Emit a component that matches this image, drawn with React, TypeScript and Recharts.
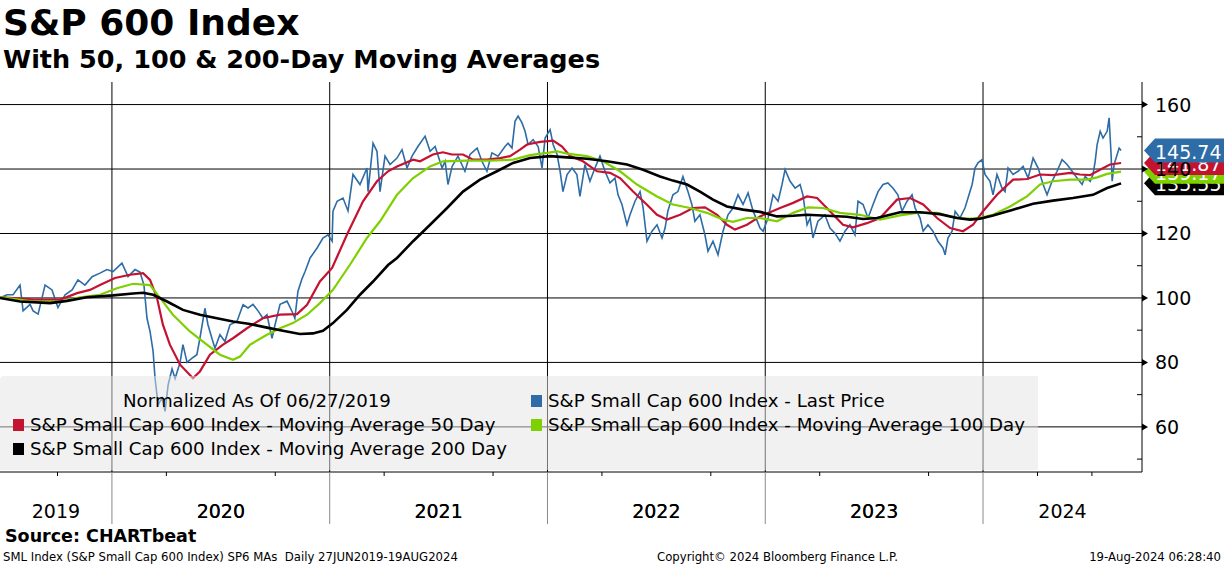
import React from 'react';
import { LineChart, Line, XAxis, YAxis, CartesianGrid, ReferenceDot } from 'recharts';

// S&P 600 normalized to 100 on 06/27/2019, with 50/100/200-day moving averages
// x values are decimal years

const FONT = "'DejaVu Sans', Verdana, sans-serif";

const price: [number, number][] = [
  [2019.486, 100], [2019.518, 101], [2019.546, 101], [2019.578, 104], [2019.592, 96],
  [2019.624, 98], [2019.638, 96], [2019.661, 95], [2019.693, 104], [2019.725, 102.5],
  [2019.752, 97], [2019.785, 101], [2019.817, 102.5], [2019.844, 105.6], [2019.876, 104],
  [2019.909, 106.6], [2019.945, 107.7], [2019.977, 108.8], [2020.005, 108.2], [2020.046, 110.8],
  [2020.074, 106.6], [2020.106, 108.8], [2020.129, 108], [2020.147, 104], [2020.161, 93.7],
  [2020.175, 89.6], [2020.189, 83.4], [2020.198, 75], [2020.212, 66.8], [2020.23, 69],
  [2020.244, 64.8], [2020.258, 73], [2020.276, 78], [2020.29, 75], [2020.313, 80],
  [2020.326, 85.5], [2020.345, 80], [2020.368, 81.3], [2020.39, 82.4], [2020.404, 87.5],
  [2020.427, 96.8], [2020.441, 91.7], [2020.459, 87.5], [2020.473, 84.4], [2020.496, 88.6],
  [2020.519, 86.5], [2020.542, 91.7], [2020.574, 92.7], [2020.602, 97.9], [2020.625, 96.9],
  [2020.648, 98], [2020.671, 96], [2020.693, 93.7], [2020.712, 94.8], [2020.735, 87.5],
  [2020.749, 91.7], [2020.772, 98], [2020.804, 99], [2020.827, 95.8], [2020.84, 93.7],
  [2020.854, 102], [2020.873, 106], [2020.887, 108.2], [2020.91, 112.4], [2020.942, 115.5],
  [2020.969, 118.6], [2020.992, 119.6], [2021.011, 117.6], [2021.015, 126.9], [2021.034, 130],
  [2021.061, 131], [2021.084, 127], [2021.107, 138.3], [2021.139, 135.2], [2021.171, 140.3],
  [2021.176, 133], [2021.199, 148], [2021.217, 145.5], [2021.231, 133], [2021.254, 144],
  [2021.277, 141.4], [2021.309, 143.4], [2021.332, 146], [2021.355, 140.3], [2021.378, 144],
  [2021.405, 147], [2021.438, 150.2], [2021.461, 145.5], [2021.484, 147], [2021.516, 140.3],
  [2021.53, 142.4], [2021.543, 135.2], [2021.562, 140.8], [2021.589, 144], [2021.621, 139.3],
  [2021.644, 144.5], [2021.677, 146.5], [2021.699, 142.4], [2021.722, 139.3], [2021.745, 145],
  [2021.773, 144], [2021.805, 147], [2021.819, 148], [2021.837, 146.5], [2021.851, 154.8],
  [2021.865, 156.4], [2021.883, 154.3], [2021.897, 151.7], [2021.911, 147.6], [2021.934, 149.1],
  [2021.957, 147], [2021.975, 140.3], [2021.989, 149.6], [2022.012, 152.2], [2022.026, 147.6],
  [2022.044, 144.5], [2022.058, 139.3], [2022.071, 133], [2022.09, 138.3], [2022.113, 140.3],
  [2022.135, 138.3], [2022.149, 131.5], [2022.172, 141.4], [2022.195, 136.2], [2022.218, 140.3],
  [2022.241, 144], [2022.264, 139.3], [2022.287, 135.7], [2022.31, 137.2], [2022.324, 132],
  [2022.342, 129], [2022.365, 122.7], [2022.379, 125.8], [2022.402, 130], [2022.425, 133],
  [2022.439, 128], [2022.457, 117.6], [2022.48, 120.7], [2022.503, 122.7], [2022.526, 118.6],
  [2022.54, 121.7], [2022.553, 127], [2022.576, 132], [2022.599, 133], [2022.622, 137.7],
  [2022.645, 133], [2022.663, 129], [2022.677, 123.8], [2022.7, 125.8], [2022.723, 119.6],
  [2022.737, 114.5], [2022.76, 117.6], [2022.783, 113.4], [2022.806, 120.7], [2022.829, 125.8],
  [2022.852, 127.9], [2022.875, 132], [2022.898, 129], [2022.921, 132.6], [2022.944, 127],
  [2022.976, 121.7], [2022.99, 120.7], [2023.013, 124.8], [2023.036, 132], [2023.059, 130],
  [2023.077, 135.2], [2023.091, 139.8], [2023.114, 136.2], [2023.137, 134.1], [2023.16, 135.2],
  [2023.173, 132], [2023.192, 122.7], [2023.206, 124.8], [2023.219, 118.6], [2023.242, 123.8],
  [2023.274, 125.8], [2023.297, 121.7], [2023.32, 120.1], [2023.343, 117.6], [2023.366, 120.7],
  [2023.389, 122.7], [2023.412, 119.6], [2023.426, 130], [2023.449, 129], [2023.472, 124.8],
  [2023.495, 129], [2023.518, 133], [2023.541, 135.2], [2023.563, 135.7], [2023.586, 134.1],
  [2023.609, 132], [2023.628, 126.9], [2023.651, 130], [2023.674, 132], [2023.688, 127.9],
  [2023.711, 124.8], [2023.725, 120.7], [2023.747, 122.7], [2023.77, 120.7], [2023.793, 117.6],
  [2023.816, 115.5], [2023.826, 113.4], [2023.839, 118.6], [2023.858, 120.7], [2023.872, 126.9],
  [2023.894, 124.8], [2023.917, 127.9], [2023.931, 131], [2023.95, 135.2], [2023.963, 140.3],
  [2023.977, 141.9], [2023.995, 142.9], [2024.009, 138.3], [2024.032, 136.2], [2024.046, 132],
  [2024.064, 138.3], [2024.087, 134.1], [2024.101, 133], [2024.115, 140.3], [2024.138, 138.3],
  [2024.161, 139.3], [2024.184, 140.8], [2024.207, 137.2], [2024.23, 143.4], [2024.253, 140.3],
  [2024.276, 135.2], [2024.294, 132], [2024.317, 136.2], [2024.34, 139.3], [2024.363, 142.9],
  [2024.386, 141.4], [2024.409, 139.3], [2024.432, 137.2], [2024.455, 135.2], [2024.469, 137.7],
  [2024.492, 136.2], [2024.505, 138.3], [2024.515, 142.4], [2024.524, 147.6], [2024.538, 151.7],
  [2024.551, 149.6], [2024.57, 151.7], [2024.579, 155.9], [2024.588, 144.5], [2024.593, 136.2],
  [2024.602, 141.4], [2024.616, 144.5], [2024.625, 146.5], [2024.634, 145.74],
];

const ma50: [number, number][] = [
  [2019.486, 100.3], [2019.638, 99.5], [2019.762, 99.5], [2019.84, 101.5], [2019.899, 102.5],
  [2019.945, 104], [2020.014, 106.2], [2020.083, 107.2], [2020.143, 107.7], [2020.175, 105.6],
  [2020.207, 100], [2020.234, 91.7], [2020.266, 85.5], [2020.313, 79.3], [2020.372, 75.1],
  [2020.404, 77.2], [2020.45, 82.4], [2020.51, 85.5], [2020.556, 87.5], [2020.62, 90.6],
  [2020.693, 93.7], [2020.772, 94.8], [2020.85, 95], [2020.896, 97.9], [2020.955, 105.1],
  [2021.011, 109.3], [2021.079, 119.6], [2021.153, 130], [2021.217, 136.2], [2021.268, 139.3],
  [2021.309, 140.8], [2021.383, 142.9], [2021.415, 142.4], [2021.474, 144.5], [2021.52, 145.2],
  [2021.561, 144.5], [2021.612, 144.5], [2021.658, 142.9], [2021.722, 142.9], [2021.782, 143.4],
  [2021.828, 144], [2021.874, 146], [2021.906, 147.6], [2021.966, 148.4], [2022.026, 148.8],
  [2022.067, 147], [2022.104, 144], [2022.163, 142.4], [2022.228, 139.3], [2022.287, 138.8],
  [2022.333, 137.2], [2022.393, 133], [2022.457, 128.9], [2022.503, 125.8], [2022.549, 124.3],
  [2022.609, 125.8], [2022.668, 127.9], [2022.723, 128.1], [2022.779, 125.8], [2022.824, 122.7],
  [2022.861, 121.2], [2022.916, 122.7], [2022.976, 125.3], [2023.068, 127.9], [2023.128, 129.5],
  [2023.192, 131.5], [2023.238, 131], [2023.297, 126.9], [2023.357, 122.7], [2023.403, 121.9],
  [2023.467, 123.2], [2023.527, 124.8], [2023.605, 130.5], [2023.665, 131], [2023.725, 129],
  [2023.789, 124.8], [2023.849, 121.7], [2023.908, 120.7], [2023.954, 122.7], [2024.0, 126.9],
  [2024.064, 132], [2024.138, 136.7], [2024.202, 136.9], [2024.262, 138.3], [2024.321, 138.1],
  [2024.4, 138.8], [2024.445, 138.3], [2024.491, 138.1], [2024.537, 139.8], [2024.583, 141.4],
  [2024.634, 141.87],
];

const ma100: [number, number][] = [
  [2019.486, 100.3], [2019.638, 98.9], [2019.762, 98.9], [2019.853, 100.2], [2019.945, 101],
  [2020.023, 103], [2020.097, 104.4], [2020.175, 104], [2020.221, 100], [2020.28, 94.8],
  [2020.358, 89.6], [2020.436, 85.5], [2020.496, 82.4], [2020.556, 80.8], [2020.588, 81.8],
  [2020.634, 85.5], [2020.712, 88.6], [2020.772, 90.6], [2020.831, 92.2], [2020.896, 94.8],
  [2020.955, 98.4], [2021.015, 102.5], [2021.093, 110.3], [2021.171, 118.6], [2021.231, 123.8],
  [2021.309, 132], [2021.383, 137.2], [2021.461, 140.8], [2021.52, 142.4], [2021.63, 142.6],
  [2021.736, 142.6], [2021.842, 142.9], [2021.92, 144.3], [2021.998, 145], [2022.044, 145.5],
  [2022.09, 144.8], [2022.181, 144], [2022.255, 142.4], [2022.333, 139.3], [2022.411, 135.2],
  [2022.503, 131.5], [2022.576, 129], [2022.654, 127.9], [2022.732, 126.4], [2022.806, 124.3],
  [2022.852, 123.6], [2022.916, 124.8], [2022.976, 124.8], [2023.054, 123.8], [2023.128, 126.4],
  [2023.197, 128.1], [2023.265, 127.9], [2023.343, 126.4], [2023.435, 125.8], [2023.527, 124.3],
  [2023.619, 125.6], [2023.697, 126.4], [2023.789, 126.4], [2023.849, 125.3], [2023.908, 124.6],
  [2023.972, 124.6], [2024.046, 125.8], [2024.124, 128.4], [2024.202, 131.5], [2024.262, 135.2],
  [2024.321, 136.2], [2024.4, 136.7], [2024.478, 136.7], [2024.524, 137.4], [2024.57, 138.5],
  [2024.634, 139.17],
];

const ma200: [number, number][] = [
  [2019.486, 100], [2019.578, 98.9], [2019.716, 98.4], [2019.794, 99.1], [2019.885, 100.2],
  [2020.005, 100.8], [2020.097, 101.4], [2020.143, 101.6], [2020.189, 101], [2020.253, 98.9],
  [2020.326, 96.3], [2020.404, 94.8], [2020.482, 93.7], [2020.556, 92.7], [2020.634, 91.9],
  [2020.712, 90.8], [2020.785, 89.8], [2020.863, 88.8], [2020.923, 89], [2020.969, 89.8],
  [2021.015, 92.2], [2021.079, 96.3], [2021.139, 101], [2021.199, 105.1], [2021.268, 110.2],
  [2021.309, 112.4], [2021.383, 117.6], [2021.461, 122.7], [2021.539, 127.9], [2021.612, 133],
  [2021.69, 136.7], [2021.768, 139.3], [2021.842, 141.9], [2021.92, 143.4], [2022.012, 144],
  [2022.09, 143.6], [2022.181, 143.2], [2022.273, 142.4], [2022.365, 141.4], [2022.439, 139.8],
  [2022.517, 137.7], [2022.576, 136.4], [2022.641, 135.2], [2022.7, 133], [2022.76, 130.5],
  [2022.824, 128.4], [2022.898, 127.4], [2022.976, 126.7], [2023.054, 125.3], [2023.128, 125.5],
  [2023.192, 125.8], [2023.284, 125.5], [2023.375, 125.2], [2023.449, 124.5], [2023.513, 124.8],
  [2023.619, 126.6], [2023.711, 126.6], [2023.802, 126], [2023.88, 124.8], [2023.94, 124.3],
  [2023.986, 124.6], [2024.046, 125.6], [2024.138, 127.4], [2024.23, 129.2], [2024.321, 130.2],
  [2024.413, 131], [2024.505, 132], [2024.57, 134.1], [2024.634, 135.55],
];

const xStart = 2019.486;
const xEnd = 2024.73;
const yearStarts = [2020, 2021, 2022, 2023, 2024];
const quarterTicks = [
  2019.75, 2020.25, 2020.5, 2020.75, 2021.25, 2021.5, 2021.75, 2022.25, 2022.5, 2022.75,
  2023.25, 2023.5, 2023.75, 2024.25, 2024.5,
];
const yearLabels = ['2019', '2020', '2021', '2022', '2023', '2024'];
const yMajor = [60, 80, 100, 120, 140, 160];
const yMinor = [50, 70, 90, 110, 130, 150];

const BLUE = '#2d6ca6';
const RED = '#c41230';
const GREEN = '#7fd000';
const BLACK = '#000000';

const series = [
  { name: 'S&P Small Cap 600 Index - Last Price', color: BLUE, points: price, width: 1.6 },
  { name: 'S&P Small Cap 600 Index - Moving Average 50 Day', color: RED, points: ma50, width: 2.2 },
  { name: 'S&P Small Cap 600 Index - Moving Average 100 Day', color: GREEN, points: ma100, width: 2.2 },
  { name: 'S&P Small Cap 600 Index - Moving Average 200 Day', color: BLACK, points: ma200, width: 2.6 },
];

// label positions: centre of each visible year segment
const segEdges = [xStart, ...yearStarts, xEnd];
const labelMids = yearLabels.map((_, i) => (segEdges[i] + segEdges[i + 1]) / 2);
const xTicks = [...yearStarts, ...quarterTicks, ...labelMids].sort((a, b) => a - b);
const yTicks = [...yMajor, ...yMinor].sort((a, b) => a - b);

function XTick(props: any) {
  const { x, y, payload } = props;
  const v = payload.value;
  const li = labelMids.indexOf(v);
  if (li >= 0) {
    return (
      <text x={x} y={y + 39} textAnchor="middle" dominantBaseline="central" fontSize={19} fontFamily={FONT} fill="#000">
        {yearLabels[li]}
      </text>
    );
  }
  if (yearStarts.includes(v)) {
    return <line x1={x} x2={x} y1={y} y2={y + 52} stroke="#8a8a8a" strokeWidth={1} />;
  }
  return <line x1={x} x2={x} y1={y} y2={y + 4} stroke="#000" strokeWidth={1} />;
}

function YTick(props: any) {
  const { x, y, payload } = props;
  const v = payload.value;
  if (yMajor.includes(v)) {
    return (
      <g>
        <path d={`M${x},${y - 3.5} L${x + 6},${y} L${x},${y + 3.5} Z`} fill="#000" />
        <text x={x + 13} y={y} dominantBaseline="central" fontSize={19} fontFamily={FONT} fill="#000">
          {v}
        </text>
      </g>
    );
  }
  return <line x1={x - 5} x2={x} y1={y} y2={y} stroke="#000" strokeWidth={1} />;
}

function Tag(props: any) {
  const { cx, cy, color, label } = props;
  if (cx == null || cy == null) return null;
  const h = 12;
  return (
    <g>
      <polygon
        points={`${cx + 2},${cy} ${cx + 13},${cy - h} ${cx + 84},${cy - h} ${cx + 84},${cy + h} ${cx + 13},${cy + h}`}
        fill={color}
      />
      <text x={cx + 13} y={cy + 1} dominantBaseline="central" fontSize={19} fontFamily={FONT} fill="#fff">
        {label}
      </text>
    </g>
  );
}

const legendRows = [
  { idx: 1, left: 13, top: 49 },
  { idx: 2, left: 531, top: 49 },
  { idx: 3, left: 13, top: 73 },
  { idx: 0, left: 531, top: 25 },
];

export default function App() {
  const lineData = series.map((s) => s.points.map(([t, v]) => ({ t, v })));
  const tagOrder = [3, 2, 1, 0];

  return (
    <div style={{ position: 'absolute', left: 0, top: 0, width: 1224, height: 566, background: '#fff', overflow: 'hidden', fontFamily: FONT }}>
      <div style={{ position: 'absolute', left: 3, top: 5, fontSize: 36, lineHeight: '36px', fontWeight: 'bold', whiteSpace: 'nowrap' }}>
        S&amp;P 600 Index
      </div>
      <div style={{ position: 'absolute', left: 3, top: 46, fontSize: 25.5, lineHeight: '26px', fontWeight: 'bold', whiteSpace: 'nowrap' }}>
        With 50, 100 &amp; 200-Day Moving Averages
      </div>

      <div style={{ position: 'absolute', left: 0, top: 0 }}>
        <LineChart width={1224} height={566} margin={{ top: 82, right: 0, left: 0, bottom: 34 }}>
          <CartesianGrid horizontalValues={yMajor} verticalValues={yearStarts} stroke="#000" strokeWidth={1} />
          <XAxis
            dataKey="t"
            type="number"
            domain={[xStart, xEnd]}
            allowDataOverflow
            ticks={xTicks}
            interval={0}
            tick={(p: any) => <XTick {...p} />}
            tickLine={false}
            tickSize={0}
            tickMargin={0}
            axisLine={{ stroke: '#000', strokeWidth: 1 }}
            height={60}
          />
          <YAxis
            orientation="right"
            type="number"
            domain={[46, 167]}
            allowDataOverflow
            ticks={yTicks}
            interval={0}
            tick={(p: any) => <YTick {...p} />}
            tickLine={false}
            tickSize={0}
            tickMargin={0}
            axisLine={{ stroke: '#000', strokeWidth: 1 }}
            width={82}
          />
          {series.map((s, i) => (
            <Line
              key={s.name}
              data={lineData[i]}
              dataKey="v"
              type="linear"
              stroke={s.color}
              strokeWidth={s.width}
              dot={false}
              activeDot={false}
              isAnimationActive={false}
            />
          ))}
          {tagOrder.map((i) => {
            const s = series[i];
            const last = s.points[s.points.length - 1][1];
            return (
              <ReferenceDot
                key={'tag' + i}
                x={xEnd}
                y={last}
                ifOverflow="visible"
                shape={(p: any) => <Tag {...p} color={s.color} label={last.toFixed(2)} />}
              />
            );
          })}
        </LineChart>
      </div>

      <div
        style={{
          position: 'absolute',
          left: 0,
          top: 376,
          width: 1038,
          height: 94,
          background: 'rgba(228,228,228,0.5)',
          borderTopLeftRadius: 4,
          fontSize: 18.2,
          lineHeight: '20px',
          color: '#000',
        }}
      >
        <div style={{ position: 'absolute', left: 123, top: 15, whiteSpace: 'nowrap' }}>Normalized As Of 06/27/2019</div>
        {legendRows.map((r) => (
          <div key={r.idx} style={{ position: 'absolute', left: r.left, top: r.top - 10, whiteSpace: 'nowrap', height: 20 }}>
            <span style={{ position: 'absolute', left: 0, top: 4, width: 11, height: 12, background: series[r.idx].color }} />
            <span style={{ position: 'absolute', left: 17, top: 0 }}>{series[r.idx].name}</span>
          </div>
        ))}
      </div>

      <div style={{ position: 'absolute', left: 5, top: 528, fontSize: 17.5, lineHeight: '17px', fontWeight: 'bold', whiteSpace: 'nowrap' }}>
        Source: CHARTbeat
      </div>
      <div style={{ position: 'absolute', left: 3, top: 551, fontSize: 11.7, lineHeight: '12px', whiteSpace: 'nowrap' }}>
        SML Index (S&amp;P Small Cap 600 Index) SP6 MAs&nbsp; Daily 27JUN2019-19AUG2024
      </div>
      <div style={{ position: 'absolute', left: 657, top: 551, fontSize: 11.7, lineHeight: '12px', whiteSpace: 'nowrap' }}>
        Copyright© 2024 Bloomberg Finance L.P.
      </div>
      <div style={{ position: 'absolute', right: 3, top: 551, fontSize: 11.7, lineHeight: '12px', whiteSpace: 'nowrap' }}>
        19-Aug-2024 06:28:40
      </div>
    </div>
  );
}
